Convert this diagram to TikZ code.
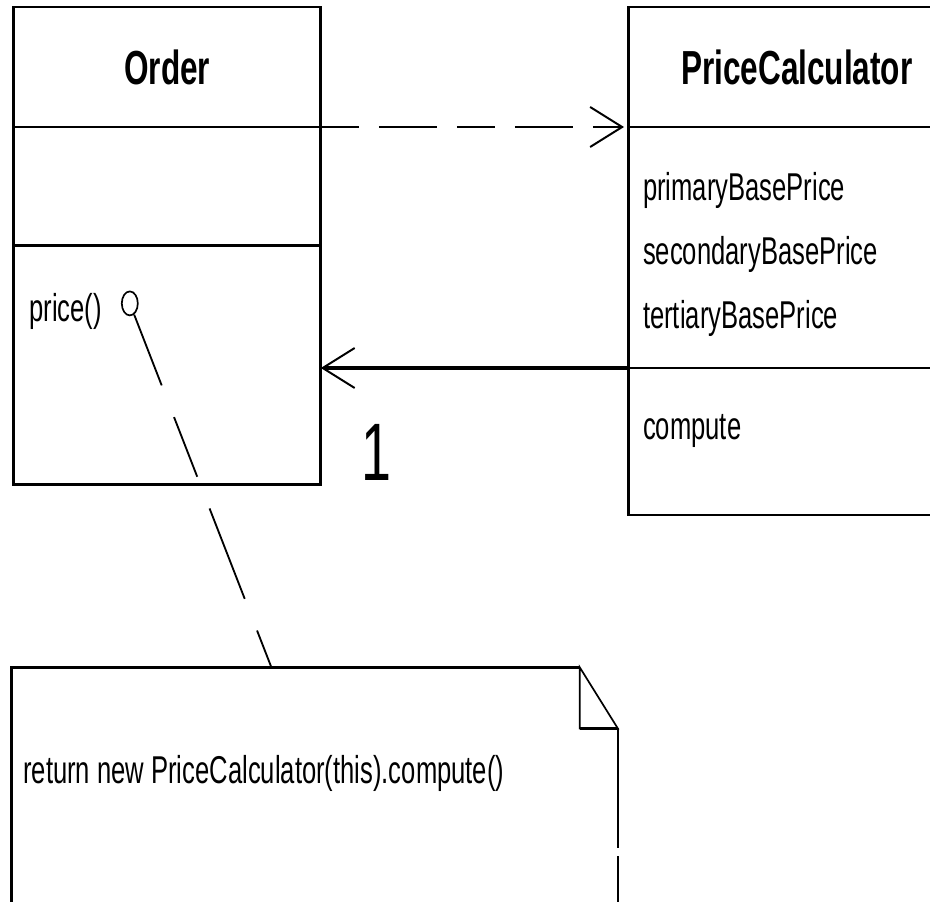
\documentclass[tikz,border=0pt]{standalone}
\usepackage{fontspec}
\newfontfamily\umlfont[FakeStretch=0.66]{Liberation Sans}
\usepackage{tikz}
\usetikzlibrary{arrows.meta,shapes,positioning}

\begin{document}
\begin{tikzpicture}[>={Straight Barb[length=0.8cm,width=1cm,line width=1.4pt]}, node distance=2cm]

	\tikzset{
		cbox/.style = {rectangle, draw, line width=2pt, outer sep=0pt, inner sep=0pt,
			minimum width=7.675cm},
		pbox/.style = {cbox, minimum width=8.4cm},
		ctitle/.style = {font=\umlfont\bfseries\fontsize{34}{40}\selectfont},
		ctext/.style = {font=\umlfont\fontsize{27.6}{45.5}\selectfont, inner sep=0pt, align=left},
		dep/.style = {->, line width=2pt, dash pattern=on 0.95cm off 0.5cm on 1.45cm off 0.5cm},
		assoc/.style = {->, line width=2.2pt},
		noteline/.style = {line width=1.3pt, dash pattern=on 1.9cm off 0.85cm on 1.6cm off 0.85cm on 2.425cm off 0.85cm}
	}

	\fill[white] (0,0) rectangle (23.25,-22.525);
	\useasboundingbox (0,0) rectangle (23.25,-22.525);

	% Order
	\node[cbox, ctitle, minimum height=3cm, anchor=north west] (ordname) at (0.345,-0.175) {Order};
	\node[cbox, minimum height=2.96cm] (ordattr) [below = 0cm of ordname] {};
	\node[cbox, minimum height=5.975cm] (ordops) [below = 0cm of ordattr] {};
	\node[ctext] (pricetxt) [below right = 1.2cm and 0.38cm of ordops.north west] {price()};
	\node[ellipse, draw, line width=1.2pt, inner sep=0pt, minimum width=0.4cm, minimum height=0.6cm]
		(pin) at ([xshift=2.9cm, yshift=-1.45cm]ordops.north west) {};

	% PriceCalculator
	\node[pbox, ctitle, minimum height=3cm] (pcname) [right = 7.7cm of ordname] {PriceCalculator};
	\node[pbox, minimum height=6.025cm] (pcattr) [below = 0cm of pcname] {};
	\node[pbox, minimum height=3.675cm] (pcops) [below = 0cm of pcattr] {};
	\node[ctext] (pcfields) [below right = 1.12cm and 0.35cm of pcattr.north west]
		{primaryBasePrice\\secondaryBasePrice\\tertiaryBasePrice};
	\node[ctext] (pcmeth) [below right = 1.15cm and 0.35cm of pcops.north west] {compute};

	% note
	\node[rectangle, inner sep=0pt, outer sep=0pt, minimum width=15.16cm, minimum height=6.55cm]
		(note) [below = 4.575cm of ordops.south west, anchor=north west, xshift=-0.06cm] {};
	\node[ctext] (notetxt) [below right = 2.2cm and 0.29cm of note.north west]
		{return new PriceCalculator(this).compute()};
	\coordinate (foldtop) at ([xshift=-0.95cm]note.north east);
	\coordinate (foldin) at ([xshift=-0.95cm, yshift=-1.525cm]note.north east);
	\coordinate (foldout) at ([yshift=-1.525cm]note.north east);
	\coordinate (notepin) at ([xshift=6.5cm]note.north west);

	\draw[line width=2pt] (foldtop) -- (note.north west) -- (note.south west);
	\draw[line width=1.2pt] (foldtop) -- (foldin) -- (foldout) -- cycle;
	\draw[line width=2pt] (foldin) -- (foldout);
	\draw[line width=1.5pt] (foldout) -- ([yshift=-4.525cm]note.north east);
	\draw[line width=1.5pt] ([yshift=-4.725cm]note.north east) -- (note.south east);

	% connectors
	\draw[dep] (ordattr.north east) -- ([xshift=-0.12cm]pcattr.north west);
	\draw[assoc] (pcattr.south west) -- (pcattr.south west -| ordops.east)
		node[pos=0.82, below=1.375cm, inner sep=0pt, font=\umlfont\fontsize{58}{60}\selectfont] (mult) {1};
	\draw[noteline] (pin) -- (notepin);

\end{tikzpicture}
\end{document}
